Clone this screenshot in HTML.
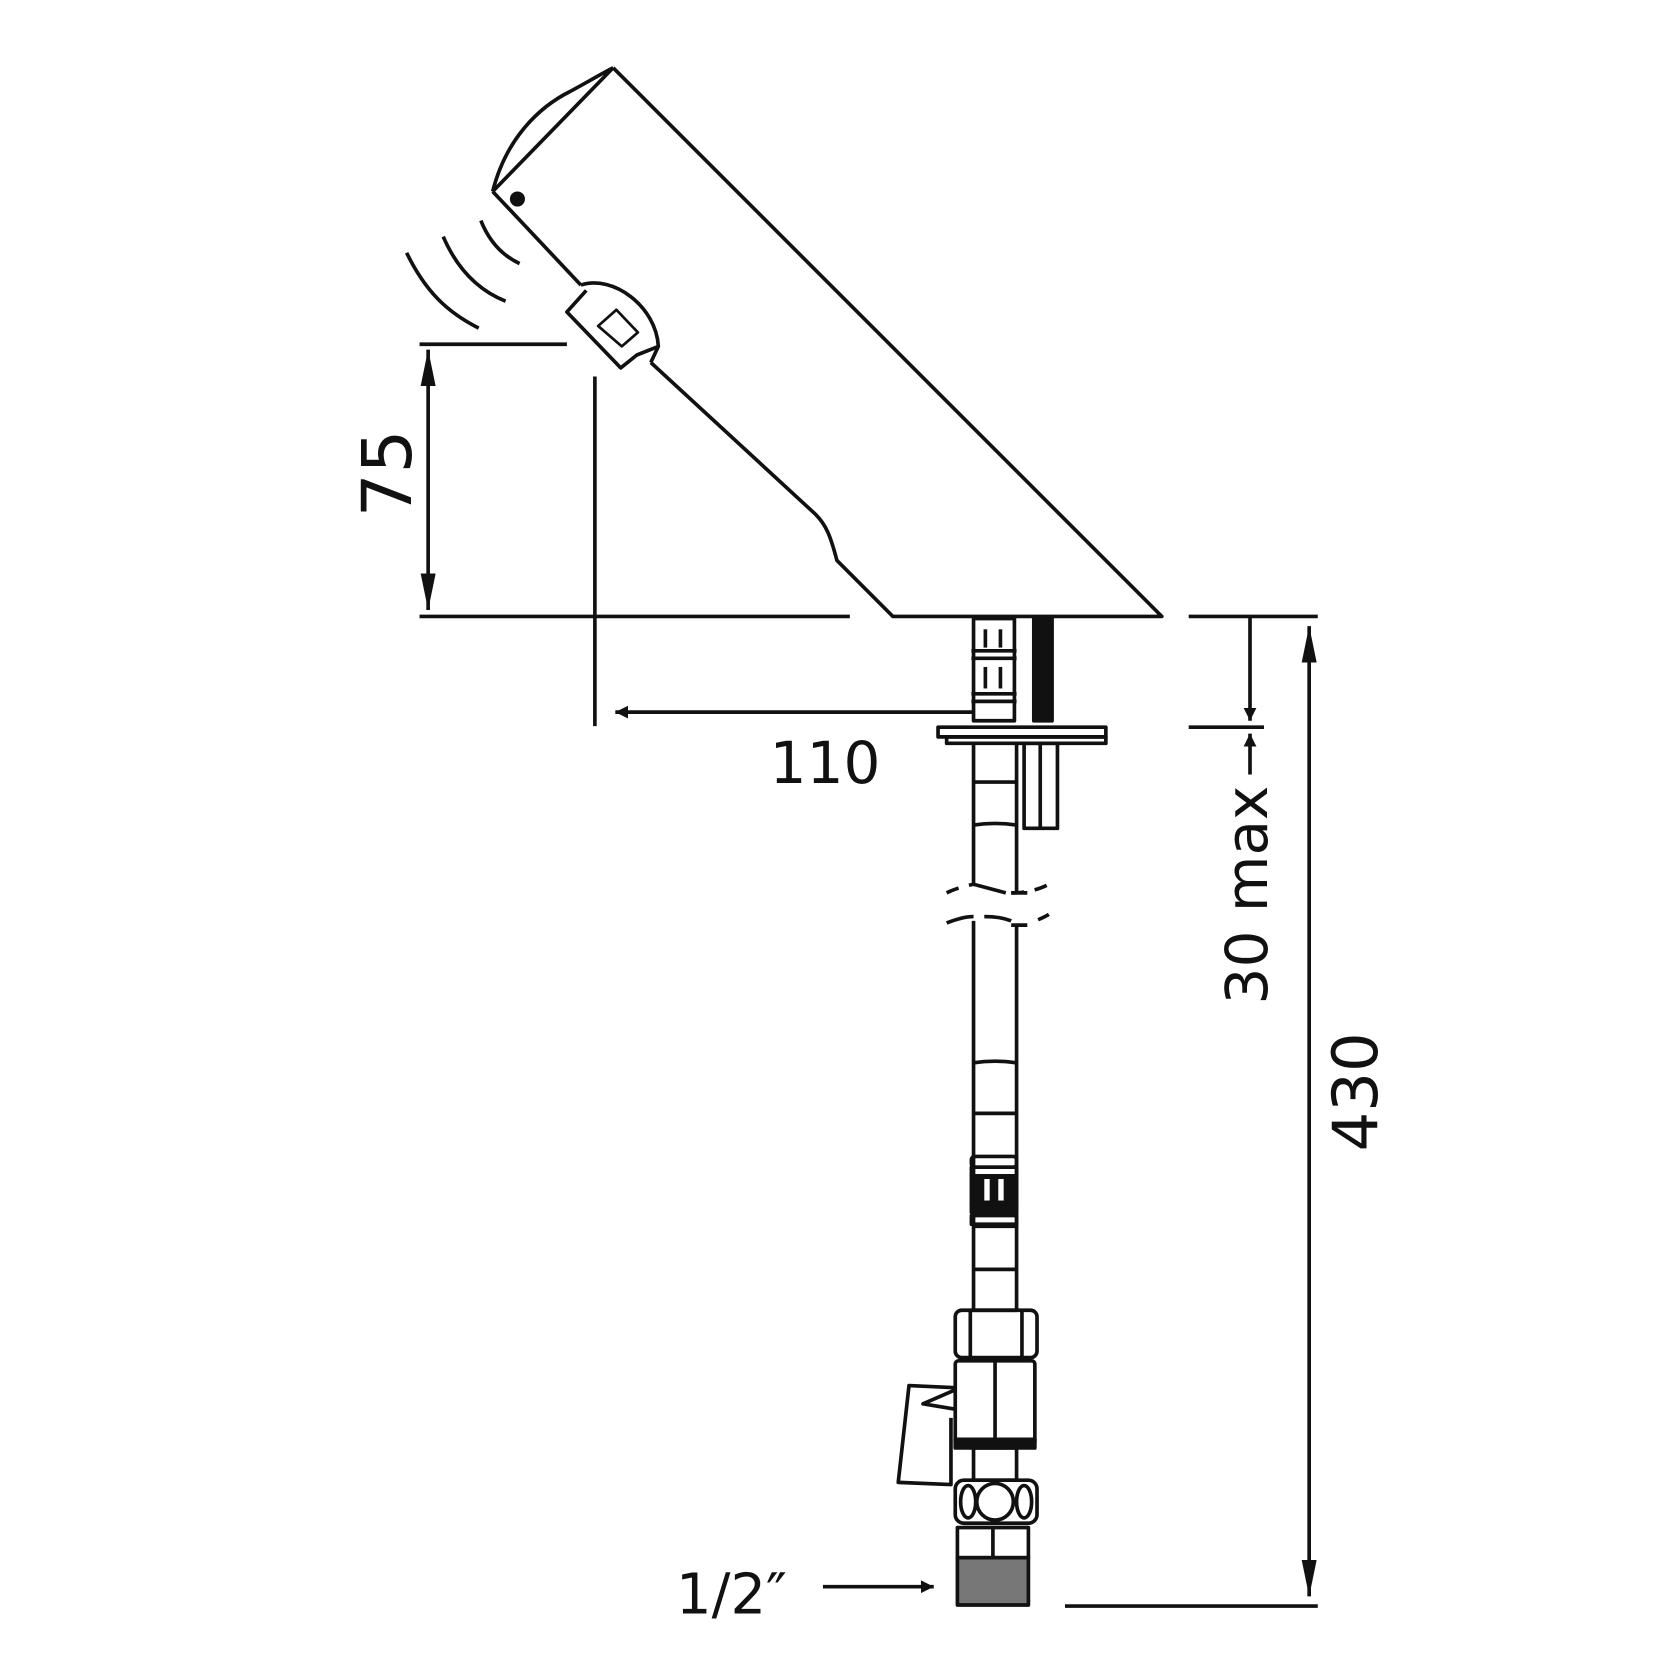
<!DOCTYPE html>
<html><head><style>html,body{margin:0;padding:0;background:#fff}svg{display:block}</style></head>
<body>
<svg width="1676" height="1676" viewBox="0 0 1558 1558" xmlns="http://www.w3.org/2000/svg">
<defs>
<marker id="ar" viewBox="0 0 10 10" refX="10" refY="5" markerWidth="12" markerHeight="12" markerUnits="userSpaceOnUse" orient="auto-start-reverse"><path d="M0,0 L10,5 L0,10 z" fill="#111"/></marker>
<marker id="ar2" viewBox="0 0 10 10" refX="10" refY="5" markerWidth="34" markerHeight="14" markerUnits="userSpaceOnUse" orient="auto-start-reverse" preserveAspectRatio="none"><path d="M0,0 L10,5 L0,10 z" fill="#111"/></marker>
</defs>
<g fill="none" stroke="#111" stroke-width="3.4" stroke-linejoin="round">
<path d="M570,63 L1080,573 L830,573 L778,521 C772,498 768,488 758,478 L605,337"/>
<path d="M458,178 L540,265"/>
<path d="M458,178 L570,63"/>
<path d="M458,178 C470,130 500,100 530,85 C545,77 560,68 570,63"/>
<circle cx="481" cy="185" r="7" fill="#111" stroke="none"/>
<path d="M540,265 C570,255 610,285 612,322 L605,337"/>
<path d="M545,270 L527,290 L577,342 L592,330 L612,322"/>
<path d="M556,303 L573,288 L593,309 L578,322 z" stroke-width="2.5"/>
<path d="M378,235 C395,270 415,290 445,305"/>
<path d="M412,220 C425,250 445,270 470,280"/>
<path d="M447,205 C455,225 468,238 483,245"/>
<line x1="390" y1="320" x2="527" y2="320"/>
<line x1="390" y1="573" x2="790" y2="573"/>
<line x1="398" y1="325" x2="398" y2="567" marker-start="url(#ar2)" marker-end="url(#ar2)"/>
<line x1="553" y1="350" x2="553" y2="675"/>
<line x1="905" y1="662" x2="572" y2="662" marker-end="url(#ar)"/>
<rect x="905" y="575" width="38" height="95"/>
<line x1="903" y1="605" x2="945" y2="605"/><line x1="903" y1="612" x2="945" y2="612"/>
<line x1="903" y1="645" x2="945" y2="645"/><line x1="903" y1="652" x2="945" y2="652"/>
<line x1="916" y1="585" x2="916" y2="602"/><line x1="930" y1="585" x2="930" y2="602"/>
<line x1="916" y1="620" x2="916" y2="640"/><line x1="930" y1="620" x2="930" y2="640"/>
<rect x="961" y="574" width="17" height="96" fill="#111"/>
<rect x="872" y="676" width="156" height="9"/>
<rect x="880" y="685" width="148" height="6"/>
<rect x="952" y="691" width="31" height="79"/>
<line x1="967" y1="691" x2="967" y2="770"/>
<path d="M905,691 L905,822 M945,691 L945,830"/>
<line x1="905" y1="727" x2="945" y2="727"/>
<path d="M905,767 Q925,764 945,767"/>
<path d="M905,822 L935,830" />
<path d="M940,830 L955,830"/>
<path d="M880,830 Q890,825 905,822" stroke-dasharray="12,10"/>
<path d="M940,830 Q960,830 975,822" stroke-dasharray="12,10"/>
<path d="M880,858 Q895,852 905,852 M905,856 L905,1140 M915,852 Q930,852 940,856 M940,860 L955,860 M945,860 L945,1140"/>
<path d="M965,855 Q972,852 975,850" />
<path d="M905,988 Q925,985 945,988"/>
<line x1="905" y1="1035" x2="945" y2="1035"/>
<rect x="903" y="1075" width="42" height="10" rx="3"/>
<rect x="903" y="1085" width="42" height="8"/>
<rect x="903" y="1093" width="42" height="26" fill="#111"/>
<rect x="915" y="1096" width="5" height="20" fill="#fff" stroke="none"/>
<rect x="928" y="1096" width="5" height="20" fill="#fff" stroke="none"/>
<rect x="903" y="1119" width="42" height="8" fill="#111"/>
<rect x="903" y="1130" width="42" height="8"/>
<rect x="905" y="1140" width="40" height="78"/>
<line x1="905" y1="1180" x2="945" y2="1180"/>
<rect x="888" y="1218" width="76" height="44" rx="6"/>
<line x1="902" y1="1218" x2="902" y2="1262"/><line x1="950" y1="1218" x2="950" y2="1262"/>
<rect x="888" y="1265" width="74" height="78" rx="3"/>
<line x1="925" y1="1265" x2="925" y2="1343"/>
<rect x="888" y="1338" width="74" height="8" fill="#111"/>
<path d="M888,1290 L845,1288 L835,1378 L884,1380 L884,1318"/>
<path d="M888,1310 L858,1305 L888,1292"/>
<rect x="905" y="1346" width="40" height="30"/>
<rect x="888" y="1376" width="76" height="40" rx="8"/>
<circle cx="925" cy="1396" r="17"/>
<ellipse cx="900" cy="1396" rx="7" ry="15"/><ellipse cx="952" cy="1396" rx="7" ry="15"/>
<rect x="890" y="1420" width="66" height="28"/>
<line x1="923" y1="1420" x2="923" y2="1448"/>
<rect x="890" y="1448" width="66" height="44" fill="#777"/>
<line x1="1105" y1="573" x2="1225" y2="573"/>
<line x1="1105" y1="676" x2="1175" y2="676"/>
<line x1="1162" y1="573" x2="1162" y2="670" marker-end="url(#ar)"/>
<line x1="1162" y1="720" x2="1162" y2="682" marker-end="url(#ar)"/>
<line x1="1217" y1="582" x2="1217" y2="1484" marker-start="url(#ar2)" marker-end="url(#ar2)"/>
<line x1="990" y1="1493" x2="1225" y2="1493"/>
<line x1="765" y1="1475" x2="868" y2="1475" marker-end="url(#ar)"/>
</g>
<g font-family="'DejaVu Sans','Liberation Sans',sans-serif" fill="#111">
<text x="0" y="0" font-size="64" text-anchor="middle" transform="translate(382,440) rotate(-90)">75</text>
<text x="767" y="728" font-size="54" text-anchor="middle">110</text>
<text x="0" y="0" font-size="54" text-anchor="middle" transform="translate(1178,832) rotate(-90)">30 max</text>
<text x="0" y="0" font-size="58" text-anchor="middle" transform="translate(1280,1015) rotate(-90)">430</text>
<text x="680" y="1500" font-size="52" text-anchor="middle">1/2″</text>
</g>
</svg>
</body></html>
